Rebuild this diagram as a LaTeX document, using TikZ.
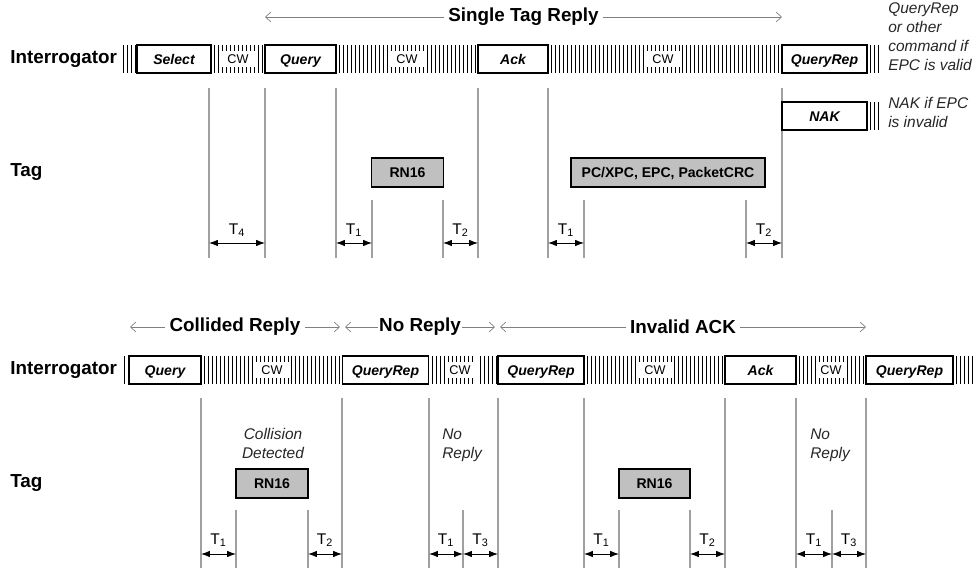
\documentclass[tikz,border=0pt]{standalone}
\usepackage{fontspec}
\setmainfont{Liberation Sans}
\usetikzlibrary{arrows.meta}

\definecolor{tagfill}{HTML}{C0C0C0}
\definecolor{guide}{HTML}{A0A0A0}

% full carrier bars: start x, run length, top y
\newcommand{\sighatch}[3]{%
  \foreach \dx in {0,4,...,#2} \draw[sigbar] (#1+\dx,#3) -- ++(0,28);}
% CW gap: short bars top and bottom, label in between
\newcommand{\sigcw}[3]{%
  \foreach \dx in {0,4,...,#2} {
    \draw[sigbar] (#1+\dx,#3) -- ++(0,6);
    \draw[sigbar] (#1+\dx,#3+28) -- ++(0,-6);}
  \node[cwtext] (cw#1) at (#1+#2/2,#3+14) {CW};}

\begin{document}
\begin{tikzpicture}[x=0.025cm, y=-0.025cm,
  sigbar/.style={line width=0.6pt},
  vline/.style={draw=guide, line width=1pt},
  cmdbox/.style={draw, line width=1.4pt, fill=white, minimum height=0.7cm, inner sep=0pt,
    text height=7.2pt, text depth=0pt, font=\fontsize{10}{12}\selectfont\bfseries\itshape},
  tagbox/.style={draw, line width=1.4pt, fill=tagfill, minimum height=0.725cm, inner sep=0pt,
    text height=7.2pt, text depth=0pt, font=\fontsize{10}{12}\selectfont\bfseries},
  wpx/.style={minimum width=#1*0.025cm},
  cwtext/.style={inner sep=0pt, font=\fontsize{9}{10}\selectfont},
  rowlabel/.style={anchor=west, inner sep=0pt, font=\fontsize{13.4}{16}\selectfont\bfseries},
  phase/.style={draw=gray, line width=0.5pt, {Straight Barb[length=1.3mm,width=2.4mm]}-{Straight Barb[length=1.3mm,width=2.4mm]}},
  phasetext/.style={fill=white, inner sep=3pt, font=\fontsize{13.4}{16}\selectfont\bfseries},
  tgap/.style={line width=0.6pt, {Latex[length=2.2mm,width=1.6mm]}-{Latex[length=2.2mm,width=1.6mm]}},
  tlabel/.style={inner sep=0pt, font=\fontsize{11}{13}\selectfont},
  note/.style={align=left, inner sep=0pt, text=black!85, font=\fontsize{11}{13.5}\selectfont\itshape}]
  \useasboundingbox (0,0) rectangle (976,571);

  % ---------------- Single tag reply ----------------
  \node[rowlabel] (irA) at (10,59) {Interrogator};
  \node[rowlabel] (tagA) at (10,172) {Tag};
  \draw[phase] (265,17) -- (782,17) node[phasetext, midway] (single) {Single Tag Reply};

  % guide lines
  \foreach \x in {209,265,336,478,548,782} \draw[vline] (\x,88) -- (\x,258);
  \foreach \x in {372,443,584,746} \draw[vline] (\x,200) -- (\x,258);

  % carrier
  \sighatch{123}{12}{45}
  \sighatch{214}{4}{45} \sigcw{222}{32}{45} \sighatch{258}{4}{45}
  \sighatch{339}{48}{45} \sigcw{391}{32}{45} \sighatch{427}{48}{45}
  \sighatch{551}{92}{45} \sigcw{647}{32}{45} \sighatch{682}{96}{45}
  \sighatch{870}{8}{45}
  \sighatch{870}{8}{102}

  % commands
  \node[cmdbox, wpx=74] (select) at (174,59) {Select};
  \node[cmdbox, wpx=71] (queryA) at (300.5,59) {Query};
  \node[cmdbox, wpx=70] (ackA) at (513,59) {Ack};
  \node[cmdbox, wpx=85] (qrepA) at (824.5,59) {QueryRep};
  \node[cmdbox, wpx=85] (nak) at (824.5,116) {NAK};
  \node[note, anchor=west] (valid) at (888,37) {QueryRep\\or other\\command if\\EPC is valid};
  \node[note, anchor=west] (invalid) at (888,112.5) {NAK if EPC\\is invalid};

  % tag replies
  \node[tagbox, wpx=72] (rnA) at (407.5,172.5) {RN16};
  \node[tagbox, wpx=194] (epc) at (668,172.5) {PC/XPC, EPC, PacketCRC};

  % timing
  \foreach \a/\b/\n in {209/265/4, 336/372/1, 443/478/2, 548/584/1, 746/782/2} {
    \draw[tgap] (\a,243) -- (\b,243);
    \node[tlabel] (tA\a) at ({(\a+\b)/2},230) {T\textsubscript{\n}};
  }

  % ---------------- Collided / no reply / invalid ACK ----------------
  \node[rowlabel] (irB) at (10,370) {Interrogator};
  \node[rowlabel] (tagB) at (10,483) {Tag};
  \draw[phase] (130,327) -- (340,327) node[phasetext, midway] (collided) {Collided Reply};
  \draw[phase] (345,327) -- (495,327) node[phasetext, midway, inner sep=1pt] (noreply) {No Reply};
  \draw[phase] (500,327) -- (866,327) node[phasetext, midway] (badack) {Invalid ACK};

  % guide lines
  \foreach \x in {201,342,429,498,584,725,796,866} \draw[vline] (\x,398) -- (\x,568);
  \foreach \x in {236,308,463,619,690,832} \draw[vline] (\x,510) -- (\x,568);

  % carrier
  \draw[sigbar] (124,356) -- ++(0,28);
  \sighatch{204}{48}{356} \sigcw{256}{32}{356} \sighatch{291}{48}{356}
  \sighatch{432}{12}{356} \sigcw{448}{24}{356} \sighatch{480}{16}{356}
  \sighatch{587}{48}{356} \sigcw{639}{32}{356} \sighatch{674}{48}{356}
  \sighatch{799}{16}{356} \sigcw{819}{24}{356} \sighatch{847}{16}{356}
  \sighatch{956}{16}{356}

  % commands
  \node[cmdbox, wpx=72] (queryB) at (165,370) {Query};
  \node[cmdbox, wpx=86] (qrepB) at (385.5,370) {QueryRep};
  \node[cmdbox, wpx=86] (qrepC) at (541,370) {QueryRep};
  \node[cmdbox, wpx=71] (ackB) at (760.5,370) {Ack};
  \node[cmdbox, wpx=87] (qrepD) at (909.5,370) {QueryRep};

  % tag replies
  \node[note, align=center] (collision) at (273,443) {Collision\\Detected};
  \node[tagbox, wpx=72] (rnB) at (272,483.5) {RN16};
  \node[note, anchor=west] (silentA) at (442,445.5) {No\\Reply};
  \node[tagbox, wpx=71] (rnC) at (654.5,483.5) {RN16};
  \node[note, anchor=west] (silentB) at (810,445.5) {No\\Reply};

  % timing
  \foreach \a/\b/\n in {201/236/1, 308/342/2, 429/463/1, 463/498/3, 584/619/1, 690/725/2, 796/832/1, 832/866/3} {
    \draw[tgap] (\a,554) -- (\b,554);
    \node[tlabel] (tB\a) at ({(\a+\b)/2},540) {T\textsubscript{\n}};
  }

\end{tikzpicture}
\end{document}
